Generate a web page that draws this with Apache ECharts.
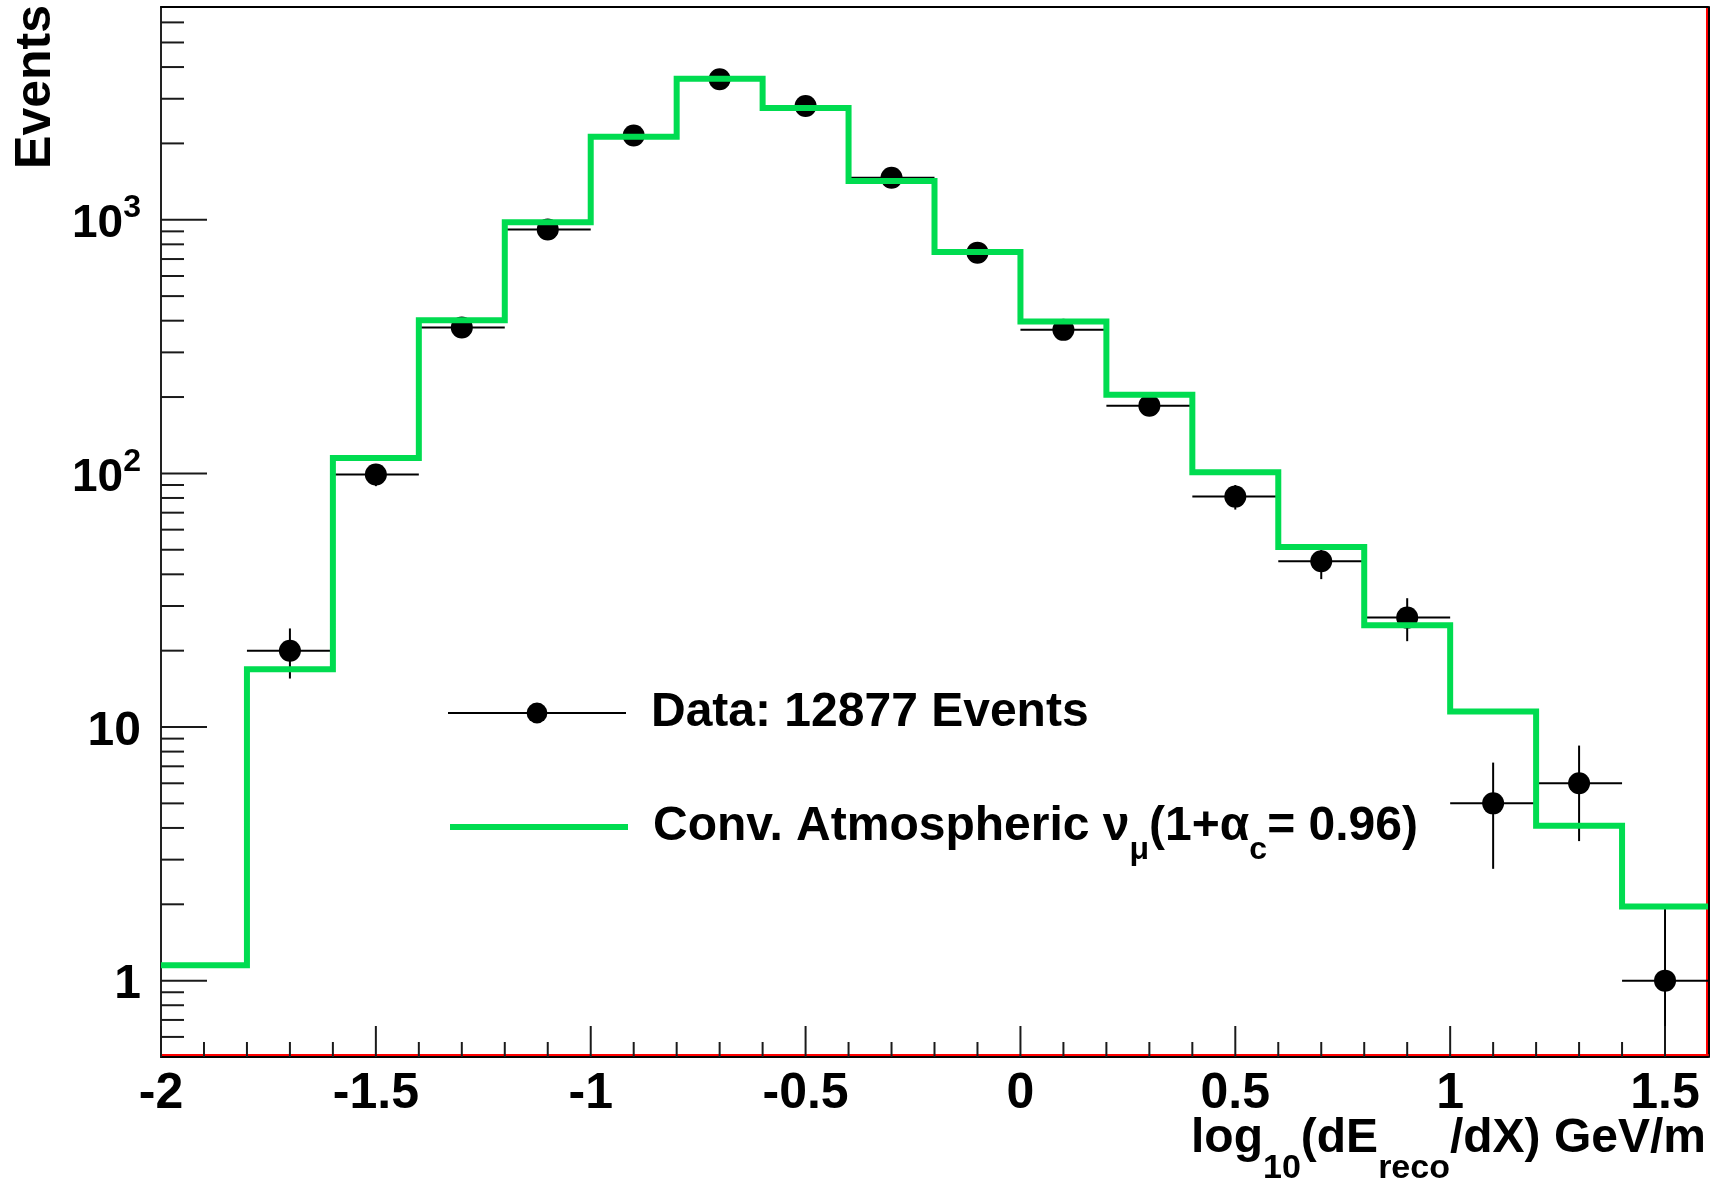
<!DOCTYPE html>
<html>
<head>
<meta charset="utf-8">
<script src="https://cdn.jsdelivr.net/npm/echarts@6/dist/echarts.min.js"></script>
<style>
  html, body { margin: 0; padding: 0; background: #ffffff; }
  #chart { width: 1728px; height: 1178px; }
</style>
</head>
<body>
<div id="chart"></div>
<script>
// Histogram binning in log10(dE_reco/dX) [GeV/m]
const binEdges = [-2, -1.8, -1.6, -1.4, -1.2, -1, -0.8, -0.6, -0.4, -0.2, 0, 0.2, 0.4, 0.6, 0.8, 1, 1.2, 1.4, 1.6];

// Expected conventional atmospheric numu events, one value per bin
const mcCounts = [1.15, 16.9, 115, 402, 977, 2127, 3600, 2760, 1422, 747, 397, 204, 101, 51.3, 25.2, 11.5, 4.08, 1.96];

// Observed events: bin centres, counts and statistical errors
const dataX = [-1.7, -1.5, -1.3, -1.1, -0.9, -0.7, -0.5, -0.3, -0.1, 0.1, 0.3, 0.5, 0.7, 0.9, 1.1, 1.3, 1.5];
const dataCounts = [20, 99, 376, 916, 2150, 3581, 2810, 1465, 742, 368, 185, 81, 45, 27, 5, 6, 1];
const dataErrors = [4.47, 9.95, 19.4, 30.3, 46.4, 59.8, 53.0, 38.3, 27.2, 19.2, 13.6, 9.0, 6.71, 5.2, 2.24, 2.45, 1.0];

// Axis ticks
const xMajorTicks = [-2, -1.5, -1, -0.5, 0, 0.5, 1, 1.5];
const xMinorTicks = [-1.9, -1.8, -1.7, -1.6, -1.4, -1.3, -1.2, -1.1, -0.9, -0.8, -0.7, -0.6,
                     -0.4, -0.3, -0.2, -0.1, 0.1, 0.2, 0.3, 0.4, 0.6, 0.7, 0.8, 0.9,
                     1.1, 1.2, 1.3, 1.4];
const yMajorTicks = [1, 10, 100, 1000];
const yMinorTicks = [0.6, 0.7, 0.8, 0.9, 2, 3, 4, 5, 6, 7, 8, 9, 20, 30, 40, 50, 60, 70, 80, 90,
                     200, 300, 400, 500, 600, 700, 800, 900, 2000, 3000, 4000, 5000, 6000];

// Axis ranges
const X_MIN = -2, X_MAX = 1.6, X_STEP = 0.5;
const Y_MIN = 0.5, Y_MAX = 6900;

const DATA_NAME = 'Data: 12877 Events';
const MC_NAME = 'Conv. Atmospheric νμ(1+αc= 0.96)';
const MC_LABEL = '{m|Conv. Atmospheric ν}{s|μ}{m|(1+α}{s|c}{m|= 0.96)}';
const X_TITLE = '{m|log}{s|10}{m|(dE}{s|reco}{m|/dX) GeV/m}';

const FONT = '"Liberation Sans", Arial, Helvetica, sans-serif';
const GREEN = '#00dc50';

const halfBin = (binEdges[1] - binEdges[0]) / 2;

// Step histogram vertices: left edge of each bin, plus the closing right edge
const mcLine = binEdges.map((e, i) => [e, mcCounts[Math.min(i, mcCounts.length - 1)]]);
const dataPoints = dataX.map((x, i) => [x, dataCounts[i]]);
const errorItems = dataX.map((x, i) => [x, dataCounts[i], dataErrors[i]]);

// Tick items: [value, kind] with kind 1 = x minor, 2 = x major, 3 = y minor, 4 = y major
const tickItems = [].concat(
  xMinorTicks.map(v => [v, 1]),
  xMajorTicks.map(v => [v, 2]),
  yMinorTicks.map(v => [v, 3]),
  yMajorTicks.map(v => [v, 4])
);

function tickRender(params, api) {
  const v = api.value(0);
  const kind = api.value(1);
  const cs = params.coordSys;
  const style = { stroke: '#1a1a1a', lineWidth: 2 };
  if (kind <= 2) {
    const px = api.coord([v, Y_MIN])[0];
    const base = cs.y + cs.height;
    const len = kind === 2 ? 31 : 15;
    return { type: 'line', shape: { x1: px, y1: base, x2: px, y2: base - len }, style: style };
  }
  const py = api.coord([X_MIN, v])[1];
  const len = kind === 4 ? 46 : 23;
  return { type: 'line', shape: { x1: cs.x, y1: py, x2: cs.x + len, y2: py }, style: style };
}

function errorRender(params, api) {
  const x = api.value(0);
  const y = api.value(1);
  const e = api.value(2);
  const c = api.coord([x, y]);
  const left = api.coord([x - halfBin, y])[0];
  const right = api.coord([x + halfBin, y])[0];
  const top = api.coord([x, Math.min(y + e, Y_MAX)])[1];
  const bottom = api.coord([x, (y - e > Y_MIN) ? y - e : Y_MIN])[1];
  const style = { stroke: '#000', lineWidth: 2 };
  return {
    type: 'group',
    children: [
      { type: 'line', shape: { x1: left, y1: c[1], x2: right, y2: c[1] }, style: style },
      { type: 'line', shape: { x1: c[0], y1: top, x2: c[0], y2: bottom }, style: style }
    ]
  };
}

function yLabel(v) {
  const p = Math.round(Math.log10(v));
  if (p <= 1) return String(Math.round(v));
  return '{t|10}{u|' + p + '}';
}

const frameAxis = (position, color, offset) => ({
  type: 'value', min: 0, max: 1, position: position, offset: offset,
  axisLine: { show: true, onZero: false, lineStyle: { color: color, width: 2 } },
  axisTick: { show: false }, axisLabel: { show: false }, splitLine: { show: false }
});

const chart = echarts.init(document.getElementById('chart'), null, { renderer: 'canvas' });

chart.setOption({
  animation: false,
  backgroundColor: '#ffffff',
  textStyle: { fontFamily: FONT },
  grid: { left: 161, right: 20, top: 7, bottom: 121, containLabel: false, outerBoundsMode: 'none' },
  title: {
    text: X_TITLE,
    right: 22,
    top: 1111,
    padding: 0,
    textStyle: {
      fontFamily: FONT, fontWeight: 'bold', fontSize: 48, color: '#000',
      rich: {
        m: { fontFamily: FONT, fontWeight: 'bold', fontSize: 48, color: '#000', lineHeight: 56, verticalAlign: 'middle' },
        s: { fontFamily: FONT, fontWeight: 'bold', fontSize: 34, color: '#000', lineHeight: 34, verticalAlign: 'middle', padding: [60, 0, 0, 0] }
      }
    }
  },
  graphic: [{
    type: 'text',
    x: 36, y: 5,
    rotation: Math.PI / 2,
    style: { text: 'Events', font: 'bold 50px ' + FONT, fill: '#000', align: 'right', verticalAlign: 'middle' }
  }],
  legend: [
    {
      data: [{ name: DATA_NAME, lineStyle: { width: 2, color: '#000', opacity: 1 }, itemStyle: { color: '#000', opacity: 1 } }],
      left: 447, top: 689, padding: 0, orient: 'vertical',
      itemWidth: 178, itemHeight: 26, selectedMode: false,
      textStyle: { fontFamily: FONT, fontWeight: 'bold', fontSize: 48, color: '#000', padding: [0, 0, 0, 20] }
    },
    {
      data: [{ name: MC_NAME, lineStyle: { width: 6, color: GREEN, opacity: 1 }, itemStyle: { opacity: 0 } }],
      left: 447, top: 788, padding: 0, orient: 'vertical',
      itemWidth: 178, itemHeight: 26, selectedMode: false,
      formatter: () => MC_LABEL,
      textStyle: {
        fontFamily: FONT, fontWeight: 'bold', fontSize: 48, color: '#000', padding: [0, 0, 0, 20],
        rich: {
          m: { fontFamily: FONT, fontWeight: 'bold', fontSize: 48, color: '#000', lineHeight: 56, verticalAlign: 'middle' },
          s: { fontFamily: FONT, fontWeight: 'bold', fontSize: 32, color: '#000', lineHeight: 32, verticalAlign: 'middle', padding: [46, 0, 0, 0] }
        }
      }
    }
  ],
  xAxis: [
    {
      type: 'value', min: X_MIN, max: X_MAX, interval: X_STEP, position: 'bottom',
      axisLine: { show: true, onZero: false, lineStyle: { color: '#000', width: 2 } },
      axisTick: { show: false }, minorTick: { show: false }, splitLine: { show: false },
      axisLabel: {
        show: true, margin: 12, fontFamily: FONT, fontWeight: 'bold', fontSize: 50, color: '#000',
        showMinLabel: true, showMaxLabel: false,
        formatter: v => String(v)
      }
    },
    frameAxis('top', '#000', 0),
    frameAxis('bottom', '#ff0000', -2)
  ],
  yAxis: [
    {
      type: 'log', logBase: 10, min: Y_MIN, max: Y_MAX, position: 'left',
      axisLine: { show: true, onZero: false, lineStyle: { color: '#222', width: 2 } },
      axisTick: { show: false }, minorTick: { show: false }, splitLine: { show: false },
      axisLabel: {
        show: true, margin: 20, fontFamily: FONT, fontWeight: 'bold', fontSize: 48, color: '#000',
        padding: [9, 0, 0, 0],
        showMinLabel: false, showMaxLabel: false,
        formatter: yLabel,
        rich: {
          t: { fontFamily: FONT, fontWeight: 'bold', fontSize: 46, color: '#000', lineHeight: 50, verticalAlign: 'middle' },
          u: { fontFamily: FONT, fontWeight: 'bold', fontSize: 32, color: '#000', lineHeight: 32, verticalAlign: 'middle', padding: [0, 0, 32, 0] }
        }
      }
    },
    frameAxis('right', '#000', 1),
    frameAxis('right', '#ff0000', -1)
  ],
  series: [
    {
      name: 'errors', type: 'custom', z: 2, silent: true,
      renderItem: errorRender,
      encode: { x: 0, y: 1 },
      data: errorItems
    },
    {
      name: DATA_NAME, type: 'line', z: 3, silent: true,
      data: dataPoints,
      symbol: 'circle', symbolSize: 22, showSymbol: true, showAllSymbol: true,
      lineStyle: { width: 0, opacity: 0 },
      itemStyle: { color: '#000' }
    },
    {
      name: MC_NAME, type: 'line', z: 4, silent: true,
      step: 'end',
      data: mcLine,
      symbol: 'none', showSymbol: false,
      lineStyle: { color: GREEN, width: 6, join: 'miter' },
      itemStyle: { color: GREEN }
    },
    {
      name: 'ticks', type: 'custom', z: 5, silent: true,
      renderItem: tickRender,
      encode: { x: 0, y: 1 },
      data: tickItems
    }
  ]
});
</script>
</body>
</html>
